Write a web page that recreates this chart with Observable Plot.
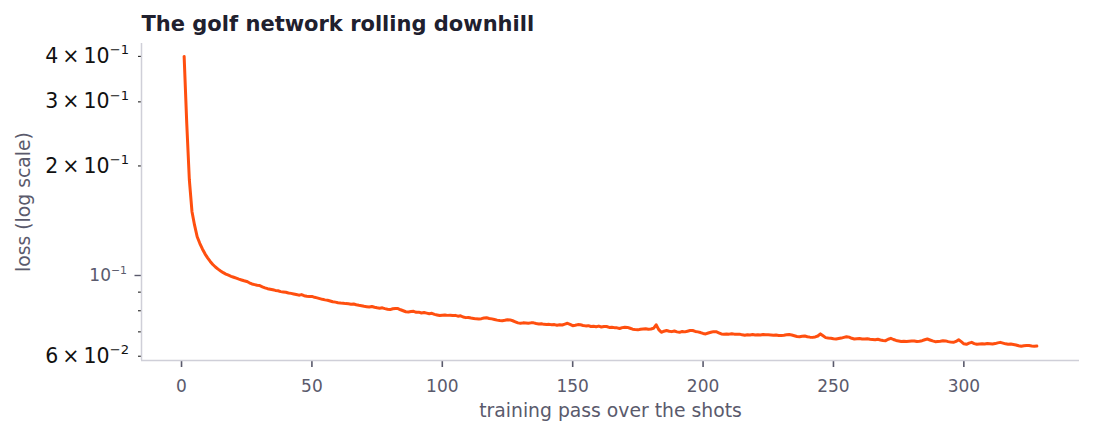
<!DOCTYPE html>
<html>
<head>
<meta charset="utf-8">
<script src="https://cdn.jsdelivr.net/npm/d3@7"></script>
<script src="https://cdn.jsdelivr.net/npm/@observablehq/plot@0.6"></script>
<style>
  html, body { margin: 0; padding: 0; background: #ffffff; }
  #chart svg { display: block; }
</style>
</head>
<body>
<div id="chart"></div>
<script>
// Text
const title = "The golf network rolling downhill";
const xLabel = "training pass over the shots";
const yLabel = "loss (log scale)";

// Axis ticks
const xTicks = [0, 50, 100, 150, 200, 250, 300];
const yMajorTicks = [0.1];
const yLabelledMinorTicks = [0.06, 0.2, 0.3, 0.4];
const yPlainMinorTicks = [0.07, 0.08, 0.09];

// Scale extents (5% padding around the data, log-padded on y)
const xDomain = [-15.35, 344.35];
const yDomain = [0.0584, 0.434];

// Loss after each training pass (pass 1 .. 328)
const loss = [
  0.400, 0.262, 0.183, 0.150, 0.1375, 0.1278, 0.1226, 0.1183, 0.1147, 0.1118,
  0.1093, 0.1072, 0.1055, 0.1041, 0.1029, 0.1018, 0.1009, 0.1002, 0.0995, 0.0989,
  0.0983, 0.0977, 0.0972, 0.0967, 0.0963, 0.0955, 0.0948, 0.0944, 0.0940, 0.0938,
  0.0931, 0.0925, 0.0920, 0.0917, 0.0914, 0.0910, 0.0908, 0.0903, 0.0901, 0.0899,
  0.0895, 0.0893, 0.0890, 0.0887, 0.0883, 0.0886, 0.0880, 0.0877, 0.0875, 0.0876,
  0.0871, 0.0868, 0.0864, 0.0860, 0.0857, 0.0855, 0.0851, 0.0847, 0.0845, 0.0842,
  0.0840, 0.0839, 0.0837, 0.0836, 0.0834, 0.0835, 0.0831, 0.0828, 0.0826, 0.0823,
  0.0821, 0.0819, 0.0822, 0.0818, 0.0815, 0.0813, 0.0815, 0.0811, 0.0808, 0.0806,
  0.0810, 0.0812, 0.0811, 0.0805, 0.0800, 0.0795, 0.0794, 0.0796, 0.0797, 0.0792,
  0.0793, 0.0789, 0.0791, 0.0788, 0.0785, 0.0787, 0.0782, 0.0779, 0.0776, 0.0778,
  0.0779, 0.0777, 0.0778, 0.0776, 0.0777, 0.0773, 0.0775, 0.0769, 0.0766, 0.0767,
  0.0764, 0.0762, 0.0760, 0.0759, 0.0761, 0.0764, 0.0765, 0.0762, 0.0760, 0.0757,
  0.0754, 0.0752, 0.0751, 0.0753, 0.0756, 0.0755, 0.0751, 0.0746, 0.0741, 0.0739,
  0.0741, 0.0740, 0.0739, 0.0741, 0.0741, 0.0738, 0.0736, 0.0737, 0.0734, 0.0733,
  0.0734, 0.0732, 0.0733, 0.0730, 0.0732, 0.0731, 0.0735, 0.0739, 0.0734, 0.0728,
  0.0730, 0.0733, 0.0732, 0.0729, 0.0727, 0.0728, 0.0724, 0.0725, 0.0723, 0.0726,
  0.0722, 0.0724, 0.0724, 0.0720, 0.0721, 0.0719, 0.0718, 0.0715, 0.0719, 0.0721,
  0.0720, 0.0716, 0.0712, 0.0710, 0.0709, 0.0712, 0.0713, 0.0714, 0.0712, 0.0713,
  0.0716, 0.0732, 0.0710, 0.0698, 0.0703, 0.0706, 0.0703, 0.0701, 0.0704, 0.0700,
  0.0698, 0.0702, 0.0700, 0.0703, 0.0706, 0.0706, 0.0702, 0.0700, 0.0697, 0.0693,
  0.0691, 0.0695, 0.0698, 0.0701, 0.0701, 0.0696, 0.0691, 0.0690, 0.0691, 0.0690,
  0.0692, 0.0690, 0.0689, 0.0690, 0.0687, 0.0685, 0.0687, 0.0686, 0.0688, 0.0686,
  0.0687, 0.0686, 0.0688, 0.0687, 0.0687, 0.0686, 0.0685, 0.0686, 0.0684, 0.0684,
  0.0685, 0.0687, 0.0688, 0.0686, 0.0683, 0.0680, 0.0679, 0.0681, 0.0682, 0.0679,
  0.0677, 0.0676, 0.0678, 0.0682, 0.0691, 0.0683, 0.0675, 0.0673, 0.0672, 0.0670,
  0.0669, 0.0671, 0.0673, 0.0676, 0.0679, 0.0677, 0.0672, 0.0669, 0.0670, 0.0671,
  0.0669, 0.0669, 0.0670, 0.0668, 0.0667, 0.0666, 0.0668, 0.0665, 0.0663, 0.0662,
  0.0668, 0.0672, 0.0667, 0.0663, 0.0661, 0.0659, 0.0660, 0.0659, 0.0660, 0.0661,
  0.0661, 0.0659, 0.0660, 0.0662, 0.0666, 0.0669, 0.0665, 0.0661, 0.0658, 0.0659,
  0.0660, 0.0662, 0.0661, 0.0658, 0.0656, 0.0655, 0.0659, 0.0666, 0.0658, 0.0649,
  0.0647, 0.0652, 0.0655, 0.0650, 0.0647, 0.0648, 0.0649, 0.0648, 0.0650, 0.0649,
  0.0648, 0.0650, 0.0653, 0.0655, 0.0652, 0.0649, 0.0647, 0.0648, 0.0646, 0.0644,
  0.0641, 0.0639, 0.0641, 0.0642, 0.0642, 0.0640, 0.0639, 0.0640
];

const rows = loss.map((v, i) => ({pass: i + 1, loss: v}));

// Colours
const lineColor = "#ff4f0f";
const spineColor = "#cfcfd8";
const mutedText = "#5a5a6c";
const titleColor = "#20202e";

// Scientific labels such as "4 × 10^−1"; the part after "^" becomes a superscript
function sciLabel(v) {
  const e = Math.floor(Math.log10(v) + 1e-9);
  const m = Math.round(v / Math.pow(10, e));
  const base = m === 1 ? "10" : m + "\u2009\u00D7\u200910";
  return base + "^" + String(e).replace("-", "\u2212");
}

const font = "'DejaVu Sans', sans-serif";

const chart = Plot.plot({
  width: 1093,
  height: 436,
  marginLeft: 141,
  marginRight: 14,
  marginTop: 43,
  marginBottom: 76,
  style: {fontFamily: font, background: "#ffffff", color: mutedText},
  x: {domain: xDomain},
  y: {type: "log", domain: yDomain},
  marks: [
    // x axis: ticks and labels
    Plot.axisX({
      ticks: xTicks, tickSize: 7, tickPadding: 12, strokeWidth: 1.6,
      color: mutedText, fontSize: 17, label: null, tickFormat: d => String(d)
    }),
    // y axis: decade tick
    Plot.axisY({
      ticks: yMajorTicks, tickSize: 6.5, tickPadding: 8, strokeWidth: 1.4,
      color: mutedText, fontSize: 17, label: null, tickFormat: sciLabel
    }),
    // y axis: labelled minor ticks
    Plot.axisY({
      ticks: yLabelledMinorTicks, tickSize: 3, tickPadding: 9.5, strokeWidth: 1.1,
      stroke: "#222222", fill: "#111111", fontSize: 20.5, label: null, tickFormat: sciLabel
    }),
    // y axis: unlabelled minor ticks
    Plot.axisY({
      ticks: yPlainMinorTicks, tickSize: 3, strokeWidth: 1.1,
      stroke: "#222222", label: null, tickFormat: () => ""
    }),
    // spines
    Plot.ruleX([xDomain[0]], {stroke: spineColor, strokeWidth: 1.5}),
    Plot.ruleY([yDomain[0]], {stroke: spineColor, strokeWidth: 1.5}),
    // loss curve
    Plot.line(rows, {x: "pass", y: "loss", stroke: lineColor, strokeWidth: 3, strokeLinejoin: "round"}),
    // axis titles and chart title
    Plot.text([xLabel], {frameAnchor: "bottom", lineAnchor: "top", dy: 43, fontSize: 18.8, fill: mutedText}),
    Plot.text([yLabel], {frameAnchor: "left", textAnchor: "middle", dx: -118, rotate: -90, fontSize: 18.8, fill: mutedText}),
    Plot.text([title], {frameAnchor: "top-left", textAnchor: "start", lineAnchor: "middle", dy: -19.5, fontSize: 21, fontWeight: "bold", fill: titleColor})
  ]
});

// Turn "mantissa × 10^exp" tick labels into text with a raised exponent
const svgNS = "http://www.w3.org/2000/svg";
chart.querySelectorAll("text").forEach(t => {
  const s = t.textContent;
  const k = s.indexOf("^");
  if (k < 0) return;
  const holder = t.closest("[font-size]");
  const size = holder ? parseFloat(holder.getAttribute("font-size")) : 17;
  t.textContent = "";
  const main = document.createElementNS(svgNS, "tspan");
  main.textContent = s.slice(0, k);
  const exp = document.createElementNS(svgNS, "tspan");
  exp.textContent = s.slice(k + 1);
  exp.setAttribute("font-size", (size * 0.64).toFixed(2));
  exp.setAttribute("dy", (-size * 0.42).toFixed(2));
  t.appendChild(main);
  t.appendChild(exp);
});

document.getElementById("chart").appendChild(chart);
</script>
</body>
</html>
